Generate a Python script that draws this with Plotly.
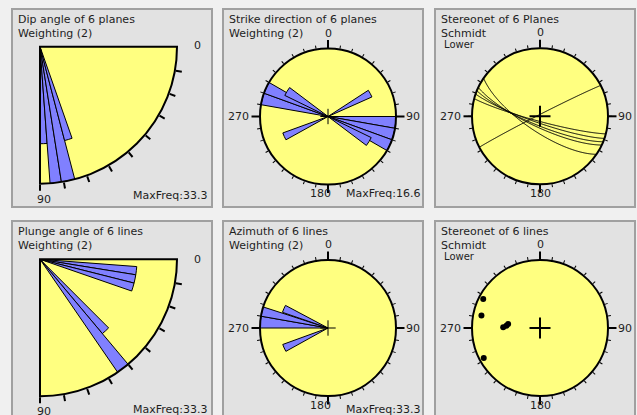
import numpy as np
import plotly.graph_objects as go

W, H = 637, 415
FONT = "DejaVu Sans"
TXT = "#1e1e1e"
YELLOW = "#ffff80"
PETAL = "#8080ff"

# ---------------- data ----------------
# Dip angle rose (quarter), bins in degrees of dip, frequency in %
dip_lo = [85.8, 81.0, 75.3, 70.7]
dip_hi = [90.0, 85.8, 81.0, 75.3]
dip_freq = [16.7, 33.3, 33.3, 16.7]
dip_max = 33.3

# Strike direction rose (bearing bins), frequency in %
strike_lo = [280, 290, 90, 100, 110, 296, 116, 57, 241]
strike_hi = [290, 300, 100, 110, 120, 307, 127, 66, 250]
strike_freq = [16.6, 16.6, 16.6, 16.6, 16.6, 8.3, 8.3, 8.3, 8.3]
strike_max = 16.6

# Planes (right-hand-rule strike, dip)
plane_strike = [105, 109, 112, 115, 124, 243]
plane_dip = [84, 82, 79, 77, 72, 88]

# Plunge angle rose (quarter)
plunge_lo = [4.3, 9.2, 14.2, 45.0, 50.0]
plunge_hi = [9.2, 14.2, 19.1, 50.0, 55.5]
plunge_freq = [16.7, 16.7, 16.7, 16.7, 33.3]
plunge_max = 33.3

# Azimuth rose
azi_lo = [270, 280, 289, 241]
azi_hi = [280, 288, 298, 250]
azi_freq = [33.3, 33.3, 16.7, 16.7]
azi_max = 33.3

# Lines (trend, plunge)
line_trend = [297, 282, 242, 271, 274, 277]
line_plunge = [7, 13, 7, 45, 49, 51]

quarter_ticks = list(range(0, 100, 10))
compass_minor = list(range(0, 360, 10))
compass_major = [0, 90, 180, 270]

# ---------------- helpers ----------------
def px_x(x):
    return x / W


def px_y(y):
    return 1 - y / H


def full_domain(cx, cy, r):
    return dict(x=[px_x(cx - r), px_x(cx + r)], y=[px_y(cy + r), px_y(cy - r)])


def quarter_domain(cx, cy, r):
    return dict(x=[px_x(cx), px_x(cx + r)], y=[px_y(cy + r), px_y(cy)])


def schmidt_r(plunge):
    return np.sqrt(2) * np.sin(np.radians(90 - np.asarray(plunge, float)) / 2)


def great_circle(strike, dip, n=181):
    rake = np.radians(np.linspace(0, 180, n))
    s, d = np.radians(strike), np.radians(dip)
    dd = s + np.pi / 2
    sv = np.array([np.cos(s), np.sin(s), 0.0])
    dv = np.array([np.cos(d) * np.cos(dd), np.cos(d) * np.sin(dd), np.sin(d)])
    v = np.outer(np.cos(rake), sv) + np.outer(np.sin(rake), dv)
    plunge = np.degrees(np.arcsin(np.clip(v[:, 2], -1, 1)))
    trend = np.degrees(np.arctan2(v[:, 1], v[:, 0])) % 360
    return schmidt_r(plunge), trend


def quarter_theta(angle):
    # angle below horizontal -> counterclockwise polar angle in the lower-right sector
    return (360 - np.asarray(angle, float)) % 360


def compass_polar(dom, rmax):
    """Full circle: returns (main polar with 10-degree ticks, overlay with cardinal ticks)."""
    main = dict(
        domain=dom, bgcolor=YELLOW,
        angularaxis=dict(direction="clockwise", rotation=90,
                         tickmode="array", tickvals=compass_minor,
                         ticktext=[""] * len(compass_minor), ticks="outside",
                         ticklen=3, tickwidth=1, tickcolor="black",
                         showgrid=False, showline=True, linecolor="black",
                         linewidth=2),
        radialaxis=dict(visible=False, range=[0, rmax]),
    )
    over = dict(
        domain=dom, bgcolor="rgba(0,0,0,0)",
        angularaxis=dict(direction="clockwise", rotation=90,
                         tickmode="array", tickvals=compass_major,
                         ticktext=[""] * 4, ticks="outside", ticklen=8,
                         tickwidth=2, tickcolor="black", showgrid=False,
                         showline=False),
        radialaxis=dict(visible=False, range=[0, rmax]),
    )
    return main, over


def quarter_polar(dom, rmax):
    tv = quarter_theta(quarter_ticks)
    return dict(
        domain=dom, bgcolor=YELLOW, sector=[270, 360],
        angularaxis=dict(direction="counterclockwise", rotation=0,
                         tickmode="array", tickvals=list(tv),
                         ticktext=[""] * len(tv), ticks="outside",
                         ticklen=6, tickwidth=2, tickcolor="black",
                         showgrid=False, showline=True, linecolor="black",
                         linewidth=2),
        radialaxis=dict(visible=False, range=[0, rmax]),
    )


def petals(lo, hi, freq, subplot, quarter=False):
    lo, hi = np.asarray(lo, float), np.asarray(hi, float)
    mid = (lo + hi) / 2
    theta = quarter_theta(mid) if quarter else mid
    return go.Barpolar(
        theta=theta, width=hi - lo, r=np.sqrt(freq),
        marker=dict(color=PETAL, line=dict(color="black", width=1)),
        subplot=subplot, showlegend=False, hoverinfo="skip")


def center_cross(subplot, size, width):
    return go.Scatterpolar(
        r=[0], theta=[0], mode="markers", subplot=subplot, showlegend=False,
        marker=dict(symbol="cross-thin", size=size,
                    line=dict(color="black", width=width)),
        hoverinfo="skip")


def empty(subplot):
    return go.Scatterpolar(r=[], theta=[], subplot=subplot, showlegend=False)


# ---------------- figure ----------------
fig = go.Figure()

# row 1
fig.add_trace(petals(dip_lo, dip_hi, dip_freq, "polar", quarter=True))
fig.add_trace(petals(strike_lo, strike_hi, strike_freq, "polar2"))
fig.add_trace(center_cross("polar2", 11, 1))
fig.add_trace(empty("polar3"))
for s, d in zip(plane_strike, plane_dip):
    r, t = great_circle(s, d)
    fig.add_trace(go.Scatterpolar(r=r, theta=t, mode="lines", subplot="polar4",
                                  line=dict(color="black", width=1),
                                  showlegend=False, hoverinfo="skip"))
fig.add_trace(center_cross("polar4", 15, 2))
fig.add_trace(empty("polar5"))

# row 2
fig.add_trace(petals(plunge_lo, plunge_hi, plunge_freq, "polar6", quarter=True))
fig.add_trace(petals(azi_lo, azi_hi, azi_freq, "polar7"))
fig.add_trace(center_cross("polar7", 11, 1))
fig.add_trace(empty("polar8"))
fig.add_trace(go.Scatterpolar(r=schmidt_r(line_plunge), theta=line_trend,
                              mode="markers", subplot="polar9",
                              marker=dict(color="black", size=6),
                              showlegend=False, hoverinfo="skip"))
fig.add_trace(center_cross("polar9", 15, 2))
fig.add_trace(empty("polar10"))

p2, p3 = compass_polar(full_domain(328, 116.5, 68), np.sqrt(strike_max))
p4, p5 = compass_polar(full_domain(540, 116.3, 68), 1.0)
p7, p8 = compass_polar(full_domain(328, 328, 68), np.sqrt(azi_max))
p9, p10 = compass_polar(full_domain(540, 328, 68), 1.0)

fig.update_layout(
    width=W, height=H, margin=dict(l=0, r=0, t=0, b=0),
    paper_bgcolor="#f0f0f0", plot_bgcolor="#f0f0f0",
    font=dict(family=FONT, size=11, color=TXT),
    polar=quarter_polar(quarter_domain(40, 46.7, 137), np.sqrt(dip_max)),
    polar2=p2, polar3=p3, polar4=p4, polar5=p5,
    polar6=quarter_polar(quarter_domain(40, 259.3, 137), np.sqrt(plunge_max)),
    polar7=p7, polar8=p8, polar9=p9, polar10=p10,
)

# panel frames
shapes = []
cols = [(12, 212), (223, 423), (435, 635)]
rows = [(9, 207), (221, 420)]
for (y0, y1) in rows:
    for (x0, x1) in cols:
        shapes.append(dict(type="rect", xref="paper", yref="paper", layer="below",
                           x0=px_x(x0), x1=px_x(x1), y0=px_y(y1), y1=px_y(y0),
                           fillcolor="#e2e2e2", line=dict(color="#a0a0a0", width=2)))
fig.update_layout(shapes=shapes)


def label(x, y, text, anchor="left", size=11):
    fig.add_annotation(x=px_x(x), y=px_y(y), xref="paper", yref="paper",
                       text=text, showarrow=False, xanchor=anchor, yanchor="middle",
                       font=dict(family=FONT, size=size, color=TXT))


# panel titles
label(16, 19.5, "Dip angle of 6 planes")
label(16, 33.5, "Weighting (2)")
label(210, 195, "MaxFreq:33.3", "right")

label(227, 19.5, "Strike direction of 6 planes")
label(227, 33.5, "Weighting (2)")
label(423, 193.5, "MaxFreq:16.6", "right")

label(439, 19.5, "Stereonet of 6 Planes")
label(439, 33, "Schmidt")
label(442, 44.5, "Lower", size=10)

label(16, 231.5, "Plunge angle of 6 lines")
label(16, 245.5, "Weighting (2)")
label(210, 409, "MaxFreq:33.3", "right")

label(227, 231.5, "Azimuth of 6 lines")
label(227, 245.5, "Weighting (2)")
label(423, 409.5, "MaxFreq:33.3", "right")

label(439, 231.5, "Stereonet of 6 lines")
label(439, 245, "Schmidt")
label(442, 256.5, "Lower", size=10)

# angle labels of the quarter roses
label(197, 46, "0", "center")
label(44, 199.5, "90", "center")
label(197, 259, "0", "center")
label(44, 411, "90", "center")

# cardinal labels of the compass plots
for cx, cy, c180 in [(328, 116.5, 320), (540, 116.3, 540),
                     (328, 328, 320), (540, 328, 540)]:
    label(cx, cy - 83.5, "0", "center")
    label(cx + 76, cy, "90", "left")
    label(cx - 77, cy, "270", "right")
    label(c180, cy + 77, "180", "center")

fig.write_html("out.html")
